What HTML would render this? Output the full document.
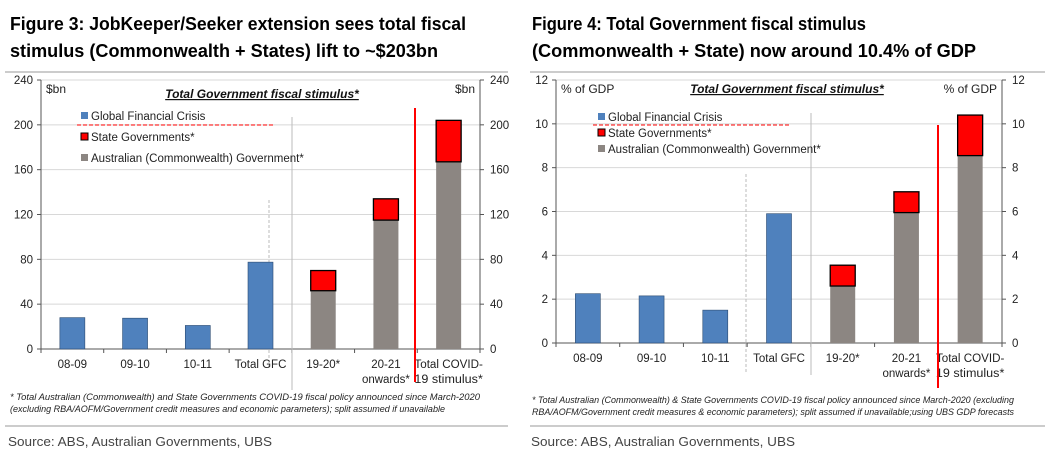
<!DOCTYPE html>
<html><head><meta charset="utf-8"><style>
body{margin:0;background:#fff;width:1049px;height:463px;overflow:hidden}
svg{display:block;font-family:"Liberation Sans",sans-serif}
</style></head><body>
<svg id="s" width="1049" height="463" xmlns="http://www.w3.org/2000/svg">
<g font-weight="bold" font-size="18" fill="#000">
<text x="10" y="30" textLength="456" lengthAdjust="spacingAndGlyphs">Figure 3: JobKeeper/Seeker extension sees total fiscal</text>
<text x="10" y="57" textLength="428" lengthAdjust="spacingAndGlyphs">stimulus (Commonwealth + States) lift to ~$203bn</text>
<text x="532" y="30" textLength="334" lengthAdjust="spacingAndGlyphs">Figure 4: Total Government fiscal stimulus</text>
<text x="532" y="57" textLength="444" lengthAdjust="spacingAndGlyphs">(Commonwealth + State) now around 10.4% of GDP</text>
</g>
<line x1="5" y1="72" x2="508" y2="72" stroke="#ccc" stroke-width="2"/>
<line x1="530" y1="72" x2="1045" y2="72" stroke="#ccc" stroke-width="2"/>
<line x1="5" y1="426" x2="508" y2="426" stroke="#ccc" stroke-width="2"/>
<line x1="530" y1="426" x2="1045" y2="426" stroke="#ccc" stroke-width="2"/>
<g font-style="italic" font-size="9" fill="#222">
<text x="10" y="400" textLength="470" lengthAdjust="spacingAndGlyphs">* Total Australian (Commonwealth) and State Governments COVID-19 fiscal policy announced since March-2020</text>
<text x="10" y="412" textLength="435" lengthAdjust="spacingAndGlyphs">(excluding RBA/AOFM/Government credit measures and economic parameters); split assumed if unavailable</text>
<text x="532" y="403" textLength="482" lengthAdjust="spacingAndGlyphs">* Total Australian (Commonwealth) &amp; State Governments COVID-19 fiscal policy announced since March-2020 (excluding</text>
<text x="532" y="415" textLength="482" lengthAdjust="spacingAndGlyphs">RBA/AOFM/Government credit measures &amp; economic parameters); split assumed if unavailable;using UBS GDP forecasts</text>
</g>
<g font-size="13" fill="#444">
<text x="8" y="446" textLength="264" lengthAdjust="spacingAndGlyphs">Source:  ABS, Australian Governments, UBS</text>
<text x="531" y="446" textLength="264" lengthAdjust="spacingAndGlyphs">Source:  ABS, Australian Governments, UBS</text>
</g>
<g id="c1"></g>
<g id="c2"></g>
</svg>
<script>
const categories=["08-09","09-10","10-11","Total GFC","19-20*","20-21|onwards*","Total COVID-|19 stimulus*"];
const gfcBn=[28,27.5,21,77.5,null,null,null];
const commBn=[null,null,null,null,52,115,167];
const stateBn=[null,null,null,null,18,19,37];
const ticksBn=[0,40,80,120,160,200,240];
const gfcPct=[2.25,2.15,1.5,5.9,null,null,null];
const commPct=[null,null,null,null,2.6,5.95,8.55];
const statePct=[null,null,null,null,0.95,0.95,1.85];
const ticksPct=[0,2,4,6,8,10,12];
const NS="http://www.w3.org/2000/svg";
function mk(p,t,a,txt){const e=document.createElementNS(NS,t);for(const k in a)e.setAttribute(k,a[k]);if(txt!=null)e.textContent=txt;p.appendChild(e);return e;}
function draw(g,cfg){
  const {L,R,T,B,max,ticks,gfc,comm,state,unit,dashX,solidX,redX,legX,legY,legDash,titleX,titleY,labelY}=cfg;
  const y=v=>B-(v/max)*(B-T);
  const cw=(R-L)/categories.length;
  const x=i=>L+cw*(i+0.5);
  const bw=25;
  ticks.forEach(t=>{
    if(t>0){const gl=mk(g,'line',{x1:L,x2:R,y1:y(t),y2:y(t),stroke:'#d8d8d8','stroke-width':1});
    
    }
    const a=mk(g,'text',{x:L-8,y:y(t)+4,'font-size':11.5,'text-anchor':'end',fill:'#222'},String(t));
    
    
    const b=mk(g,'text',{x:R+10,y:y(t)+4,'font-size':11.5,fill:'#222'},String(t));
    
    
    mk(g,'line',{x1:L-4,x2:L,y1:y(t),y2:y(t),stroke:'#555'});
    mk(g,'line',{x1:R,x2:R+4,y1:y(t),y2:y(t),stroke:'#555'});
  });
  mk(g,'line',{x1:L,x2:L,y1:T,y2:B,stroke:'#555'});
  mk(g,'line',{x1:R,x2:R,y1:T,y2:B,stroke:'#555'});
  mk(g,'line',{x1:L,x2:R,y1:B,y2:B,stroke:'#555'});
  for(let i=0;i<=categories.length;i++)mk(g,'line',{x1:L+cw*i,x2:L+cw*i,y1:B,y2:B+4,stroke:'#555'});
  mk(g,'line',{x1:dashX[0],x2:dashX[0],y1:dashX[1],y2:dashX[2],stroke:'#bbb','stroke-dasharray':'3,2'});
  mk(g,'line',{x1:solidX[0],x2:solidX[0],y1:solidX[1],y2:solidX[2],stroke:'#bbb'});
  categories.forEach((c,i)=>{
    if(gfc[i]!=null){const r=mk(g,'rect',{x:x(i)-bw/2,y:y(gfc[i]),width:bw,height:B-y(gfc[i]),fill:'#4f81bd',stroke:'#2a4a70','stroke-width':0.6});
      
      }
    if(comm[i]!=null){const r=mk(g,'rect',{x:x(i)-bw/2,y:y(comm[i]),width:bw,height:B-y(comm[i]),fill:'#8c8682'});
      
      
      const top=comm[i]+state[i];
      const s=mk(g,'rect',{x:x(i)-bw/2,y:y(top),width:bw,height:y(comm[i])-y(top),fill:'#ff0000',stroke:'#000','stroke-width':1.3});
      
      }
    const parts=c.split('|');
    parts.forEach((p,k)=>{const t=mk(g,'text',{x:x(i),y:labelY+k*15,'font-size':11.5,'text-anchor':'middle',fill:'#222'},p);
      
      
      if(p.length>9){t.setAttribute('textLength',String(p.length*5.7));t.setAttribute('lengthAdjust','spacingAndGlyphs');}});
  });
  mk(g,'line',{x1:redX[0],x2:redX[0],y1:redX[1],y2:redX[2],stroke:'#ff0000','stroke-width':2});
  const u1=mk(g,'text',{x:L+5,y:T+13,'font-size':12,fill:'#222'},unit);
  
  
  const u2=mk(g,'text',{x:R-5,y:T+13,'font-size':12,'text-anchor':'end',fill:'#222'},unit);
  
  
  const tt=mk(g,'text',{x:titleX,y:titleY,'font-size':12,'font-weight':'bold','font-style':'italic','text-anchor':'middle','text-decoration':'underline',fill:'#111'},'Total Government fiscal stimulus*');
  
  
  const leg=[['#4f81bd','Global Financial Crisis','none'],['#ff0000','State Governments*','#000'],['#8c8682','Australian (Commonwealth) Government*','none']];
  leg.forEach((l,k)=>{
    const yy=legY[k];
    mk(g,'rect',{x:legX,y:yy-8,width:7,height:7,fill:l[0],stroke:l[2],'stroke-width':1});
    const t=mk(g,'text',{x:legX+10,y:yy,'font-size':11.5,fill:'#222'},l[1]);
    
    
  });
  mk(g,'line',{x1:legDash[0],x2:legDash[1],y1:legDash[2],y2:legDash[2],stroke:'#ff0000','stroke-dasharray':'4,2'});
}
draw(document.getElementById('c1'),{L:41,R:480,T:80,B:349,max:240,ticks:ticksBn,gfc:gfcBn,comm:commBn,state:stateBn,unit:'$bn',
  dashX:[269,200,370],solidX:[292,117,390],redX:[415,108,382],legX:81,legY:[120,141,162],legDash:[77,274,125],titleX:262,titleY:98,labelY:368});
draw(document.getElementById('c2'),{L:556,R:1002,T:80,B:343,max:12,ticks:ticksPct,gfc:gfcPct,comm:commPct,state:statePct,unit:'% of GDP',
  dashX:[746,174,372],solidX:[811,113,375],redX:[938,125,388],legX:598,legY:[121,137,153],legDash:[593,789,125],titleX:787,titleY:93,labelY:362});
</script>
</body></html>
